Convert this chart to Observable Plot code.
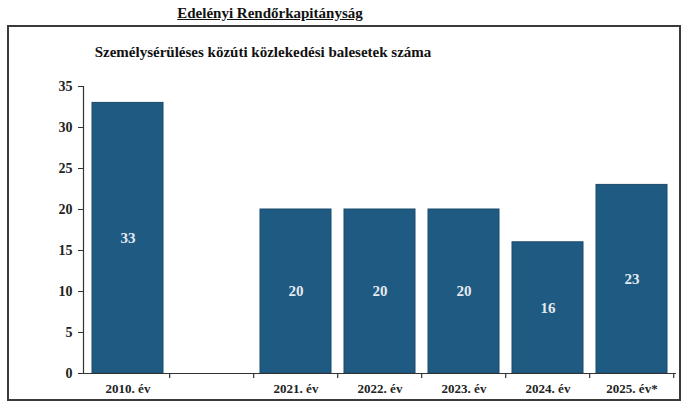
<!DOCTYPE html>
<html><head><meta charset="utf-8">
<script src="https://cdn.jsdelivr.net/npm/d3@7"></script>
<script src="https://cdn.jsdelivr.net/npm/@observablehq/plot@0.6"></script>
<style>
body{margin:0;background:#fff;width:682px;height:406px;position:relative;overflow:hidden;font-family:"Liberation Serif",serif;color:#111;}
#t1{position:absolute;left:0;width:540px;top:4px;text-align:center;font-weight:bold;font-size:15px;line-height:18px;text-decoration:underline;}
#box{position:absolute;left:7px;top:25px;width:670px;height:372px;border:2px solid #3a3a3a;}
#t2{position:absolute;left:0;width:508px;top:16px;text-align:center;font-weight:bold;font-size:15px;line-height:18px;}
#chart{position:absolute;left:0;top:43px;}
</style></head>
<body>
<div id="t1">Edelényi Rendőrkapitányság</div>
<div id="box">
  <div id="t2">Személysérüléses közúti közlekedési balesetek száma</div>
  <div id="chart"></div>
</div>
<script>
const categories = ["2010. év", " ", "2021. év", "2022. év", "2023. év", "2024. év", "2025. év*"];
const values = [33, null, 20, 20, 20, 16, 23];
const yTicks = [0, 5, 10, 15, 20, 25, 30, 35];

const data = categories.map((c, i) => ({cat: c, value: values[i]})).filter(d => d.value != null);
const PAD = 0.15;

const boundaryTicks = (index, scales, vals, dims) => {
  const x = scales.x, y = scales.y;
  const starts = categories.map(c => x(c));
  const step = starts[1] - starts[0];
  const y0 = y(0);
  const g = d3.create("svg:g");
  for (let i = 1; i <= categories.length; i++) {
    const bx = i < categories.length ? starts[i] - PAD * step / 2 : starts[i - 1] + step * (1 - PAD / 2);
    g.append("line").attr("x1", bx).attr("x2", bx).attr("y1", y0).attr("y2", y0 + 5)
      .attr("stroke", "#333").attr("stroke-width", 1.2);
  }
  return g.node();
};

const chart = Plot.plot({
  width: 670,
  height: 328,
  marginLeft: 74,
  marginRight: 3,
  marginTop: 16,
  marginBottom: 25,
  style: {fontFamily: "'Liberation Serif', serif", background: "transparent"},
  x: {domain: categories, type: "band", paddingInner: PAD, paddingOuter: 0.09, label: null},
  y: {domain: [0, 35], label: null},
  marks: [
    Plot.barY(data, {x: "cat", y: "value", fill: "#1f5a82", stroke: "#194a6b", strokeWidth: 1}),
    Plot.text(data, {x: "cat", y: d => d.value / 2, text: d => String(d.value), fill: "#e4eaf0", fontSize: 15, fontWeight: "bold"}),
    Plot.frame({anchor: "left", stroke: "#333", strokeWidth: 1.2}),
    Plot.ruleY([0], {stroke: "#333", strokeWidth: 1.2}),
    boundaryTicks,
    Plot.axisY({ticks: yTicks, tickSize: 5, tickPadding: 6, fontSize: 14, fontWeight: "bold", stroke: "#333", fill: "#222"}),
    Plot.axisX({tickSize: 0, tickPadding: 10, fontSize: 13, fontWeight: "bold", fill: "#222"})
  ]
});
document.getElementById("chart").appendChild(chart);
</script>
</body></html>
